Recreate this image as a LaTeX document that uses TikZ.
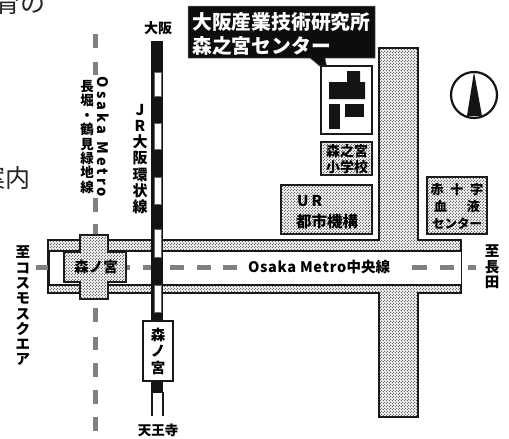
\documentclass[tikz,border=0pt]{standalone}
\usepackage{fontspec}
\usetikzlibrary{patterns}
\newfontfamily\cjk{Noto Sans CJK JP}
\pgfdeclarepatternformonly{mapdots}{\pgfqpoint{-1pt}{-1pt}}{\pgfqpoint{4pt}{4pt}}{\pgfqpoint{3pt}{3pt}}{%
  \pgfpathcircle{\pgfqpoint{0.75pt}{0.75pt}}{0.55pt}%
  \pgfpathcircle{\pgfqpoint{2.25pt}{2.25pt}}{0.55pt}%
  \pgfusepath{fill}}
\newcommand{\fs}[2]{\fontsize{#1}{#2}\selectfont}
\tikzset{
  dotted area/.style={pattern=mapdots,pattern color=black!80},
  outline/.style={draw=black!90,line width=2pt,line join=miter},
  metrodash/.style={draw=black!50,line width=5pt},
  lbl/.style 2 args={font={\cjk\bfseries\fs{#1}{#2}},text=black,inner sep=0pt,align=center},
  body/.style={font={\cjk\fs{25}{25}},text=black!85,inner sep=0pt}
}
\begin{document}
\begin{tikzpicture}[x=1pt,y=-1pt]
\useasboundingbox (0,0) rectangle (509,439);
\fill[white] (0,0) rectangle (509,439);
% cut-off body text
\node[body,anchor=east] (bodyA) at (46,3) {育の};
\node[body,anchor=east] (bodyB) at (31,178) {案内};
% road + central line band
\path[dotted area] (379,48) -- (418,48) -- (418,240) -- (461,240) -- (461,293) -- (418,293) -- (418,417) -- (379,417) -- (379,293) -- (48,293) -- (48,240) -- (379,240) -- cycle;
\draw[outline] (379,48) -- (418,48) -- (418,240) -- (461,240) -- (461,293) -- (418,293) -- (418,417) -- (379,417) -- (379,293) -- (48,293) -- (48,240) -- (379,240) -- cycle;
\draw[outline,fill=white] (461,251) -- (49,251) -- (49,285) -- (461,285);
% metro dashes
\foreach \a/\b in {34/48,62/75,198/212,224/236,308/322,337/350,363/377,390/404,417/431}
  \draw[metrodash] (95,\a) -- (95,\b);
\foreach \a/\b in {36/48,125/130,143/155,170/184,197/211,223/237,412/427,440/454,468/476}
  \draw[metrodash] (\a,267) -- (\b,267);
% Morinomiya cross station
\draw[outline,fill=white] (80,235) -- (108,235) -- (108,252) -- (126,252) -- (126,282) -- (108,282) -- (108,299) -- (80,299) -- (80,282) -- (64,282) -- (64,252) -- (80,252) -- cycle;
\path[dotted area] (80,235) -- (108,235) -- (108,252) -- (126,252) -- (126,282) -- (108,282) -- (108,299) -- (80,299) -- (80,282) -- (64,282) -- (64,252) -- (80,252) -- cycle;
\node[lbl={14.5}{14.5}] (crossname) at (96,267) {森ノ宮};
% JR loop line
\fill[black!92] (151,41) rectangle (163,393);
\foreach \a/\b in {72/96,123/149,177/204,229/257,285/312}
  \draw[black!60,fill=white,line width=.5pt] (154,\a) rectangle (161,\b);
\fill[white] (153,393) rectangle (162,416);
\draw[black!90,line width=1.6pt] (152,392) -- (152,416) (163,392) -- (163,416);
% JR station
\node[draw=black!90,line width=1.8pt,fill=white,minimum width=30pt,minimum height=60pt,lbl={14.5}{16.5}] (jrstation) at (158,351) {森\\ノ\\宮};
% callout
\fill[black!95,draw=black!55,line width=.5pt] (188,6) -- (375,6) -- (375,58) -- (325,58) -- (328,73) -- (310,58) -- (188,58) -- cycle;
\node[lbl={19.8}{24},text=white,anchor=west,align=left] (callout) at (192,34) {大阪産業技術研究所\\森之宮センター};
% building
\draw[outline,fill=white] (321,66) rectangle (372,134);
\fill[black!92] (329,82) -- (347,82) -- (347,71) -- (360,71) -- (360,82) -- (365,82) -- (365,99) -- (329,99) -- cycle;
\fill[black!92] (329,104) rectangle (340,129);
\fill[black!92] (345,104) rectangle (364,117);
% school
\draw[outline] (321,142) rectangle (372,175);
\path[dotted area] (321,142) rectangle (372,175);
\node[lbl={14}{15.5}] (school) at (347,159) {森之宮\\小学校};
% UR
\draw[outline] (281,185) rectangle (372,234);
\path[dotted area] (281,185) rectangle (372,234);
\node[lbl={15}{15},anchor=west] (urA) at (297,201) {U\hspace{3pt}R};
\node[lbl={15.5}{16},anchor=west] (urB) at (296,222) {都市機構};
% red cross
\draw[outline] (427,177) rectangle (487,234);
\path[dotted area] (427,177) rectangle (487,234);
\node[lbl={13}{13}] (rcA) at (457,190) {赤\hspace{7pt}十\hspace{7pt}字};
\node[lbl={13}{13}] (rcB) at (457,207) {血\hspace{20pt}液};
\node[lbl={12.5}{13}] (rcC) at (457,224) {センター};
% north mark
\draw[black!92,line width=2.2pt] (474,95) circle (23);
\fill[black!92] (474,72) -- (482,116) -- (467,116) -- cycle;
% labels
\node[lbl={14}{14}] (osaka) at (158,28) {大阪};
\node[lbl={13.5}{14}] (tennoji) at (158,430) {天王寺};
\node[lbl={15}{16.2}] (jrname) at (140,159) {J\\R\\大\\阪\\環\\状\\線};
\node[lbl={14.5}{14},rotate=-90] (metroA) at (103,137) {O\hspace{3pt}s\hspace{3pt}a\hspace{3pt}k\hspace{3pt}a\hspace{7pt}M\hspace{3pt}e\hspace{3pt}t\hspace{3pt}r\hspace{3pt}o};
\node[lbl={13.5}{14.4}] (metroB) at (87,137) {長\\堀\\・\\鶴\\見\\緑\\地\\線};
\node[lbl={14.5}{15.3}] (toA) at (23,306) {至\\コ\\ス\\モ\\ス\\ク\\エ\\ア};
\node[lbl={14.5}{15.5}] (toB) at (492,267) {至\\長\\田};
\node[lbl={14.5}{15},anchor=west] (central) at (248,267) {O\hspace{.6pt}s\hspace{.6pt}a\hspace{.6pt}k\hspace{.6pt}a\hspace{4pt}M\hspace{.6pt}e\hspace{.6pt}t\hspace{.6pt}r\hspace{.6pt}o\hspace{.3pt}中央線};
\end{tikzpicture}
\end{document}
